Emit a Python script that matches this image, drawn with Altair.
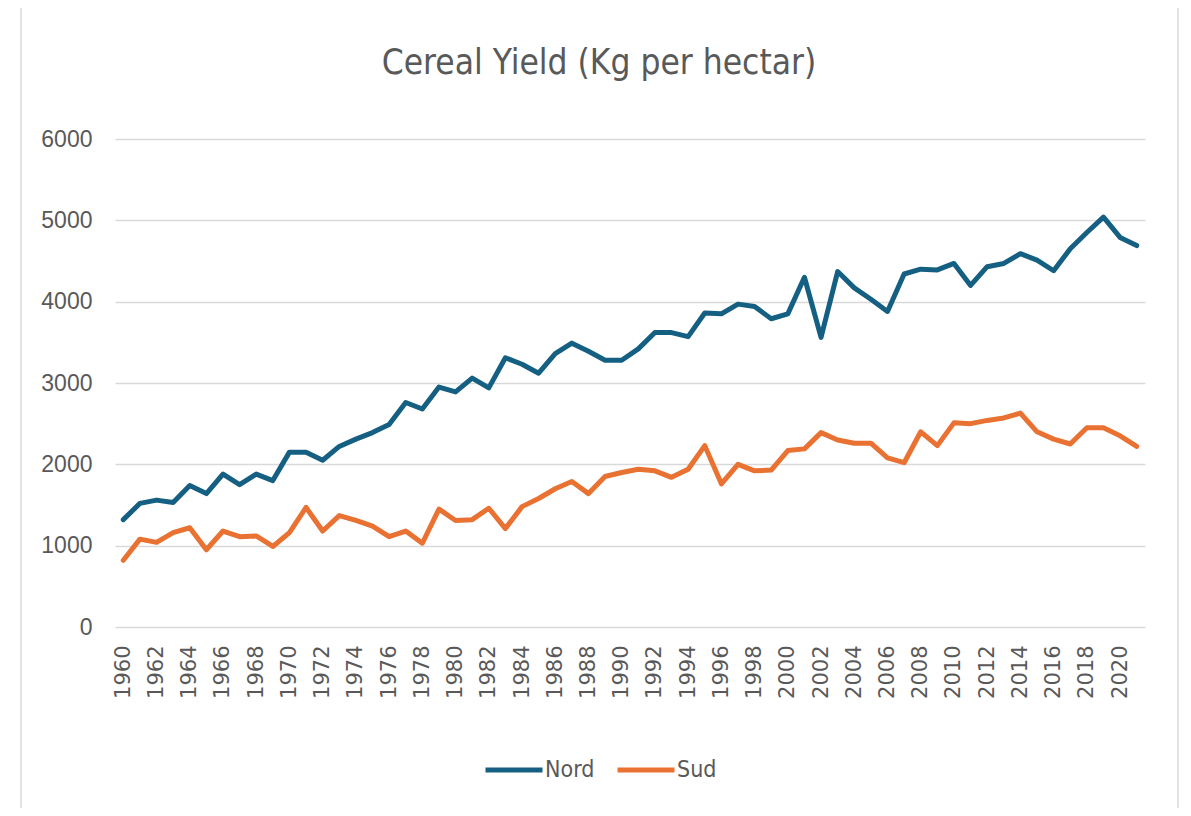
import altair as alt
import pandas as pd

years = list(range(1960, 2022))
nord = [1320, 1520, 1560, 1530, 1740, 1640, 1880, 1750, 1880, 1800,
        2150, 2150, 2050, 2220, 2310, 2390, 2490, 2760, 2680, 2950,
        2890, 3060, 2940, 3310, 3230, 3120, 3360, 3490, 3390, 3280,
        3280, 3420, 3620, 3620, 3570, 3860, 3850, 3970, 3940, 3790,
        3850, 4300, 3560, 4370, 4170, 4030, 3880, 4340, 4400, 4390,
        4470, 4200, 4430, 4470, 4590, 4510, 4380, 4650, 4850, 5040,
        4790, 4690]
sud = [820, 1080, 1040, 1160, 1220, 950, 1180, 1110, 1120, 990,
       1160, 1470, 1180, 1370, 1310, 1240, 1110, 1180, 1030, 1450,
       1310, 1320, 1460, 1210, 1480, 1580, 1700, 1790, 1640, 1850,
       1900, 1940, 1920, 1840, 1940, 2230, 1760, 2000, 1920, 1930,
       2170, 2190, 2390, 2300, 2260, 2260, 2080, 2020, 2400, 2230,
       2510, 2500, 2540, 2570, 2630, 2400, 2310, 2250, 2450, 2450,
       2350, 2220]
series = ["Nord", "Sud"]
colors = ["#156082", "#E97132"]
x_ticks = list(range(1960, 2021, 2))
y_ticks = [0, 1000, 2000, 3000, 4000, 5000, 6000]

df = pd.DataFrame({
    "Year": years * 2,
    "Yield": nord + sud,
    "Region": ["Nord"] * len(years) + ["Sud"] * len(years),
})

NARROW = "Liberation Sans Narrow, DejaVu Sans Condensed, Arial Narrow, sans-serif"
GREY = "#595959"

lines = alt.Chart(df).mark_line(strokeWidth=5, strokeJoin="round", strokeCap="round").encode(
    x=alt.X("Year:Q",
            scale=alt.Scale(domain=[1959.5, 2021.5], nice=False, zero=False),
            axis=alt.Axis(values=x_ticks, format="d", labelAngle=-90, title=None,
                          grid=False, domain=False, ticks=False,
                          labelFont="DejaVu Sans, sans-serif", labelFontSize=21,
                          labelColor=GREY, labelPadding=18)),
    y=alt.Y("Yield:Q",
            scale=alt.Scale(domain=[0, 6000], nice=False),
            axis=alt.Axis(values=y_ticks, format="d", title=None, domain=False, ticks=False,
                          grid=True, gridColor="#d9d9d9", gridWidth=1.5,
                          labelFont="Liberation Sans, Arial, sans-serif", labelFontSize=23,
                          labelColor=GREY, labelPadding=23)),
    color=alt.Color("Region:N",
                    scale=alt.Scale(domain=series, range=colors),
                    legend=alt.Legend(title=None, orient="none", direction="horizontal",
                                      legendX=368, legendY=600,
                                      symbolType="stroke", symbolSize=3249,
                                      symbolStrokeWidth=5,
                                      labelFont=NARROW, labelFontSize=23,
                                      labelColor=GREY, columnPadding=12,
                                      labelOffset=0)),
)

frame = alt.Chart(pd.DataFrame({"f": [0]})).mark_rect(
    fill=None, stroke="#d9d9d9", strokeWidth=1.5, cornerRadius=3
).encode(
    x=alt.value(-94), x2=alt.value(1063), y=alt.value(-135), y2=alt.value(671)
)

chart = alt.layer(frame, lines).properties(
    width=1030,
    height=488,
    title=alt.TitleParams("Cereal Yield (Kg per hectar)", font=NARROW, fontSize=35,
                          fontWeight="normal", color=GREY, anchor="middle",
                          offset=0, dx=-31, dy=78),
    autosize=alt.AutoSizeParams(type="none"),
    padding={"left": 107, "top": 131, "right": 38, "bottom": 181},
).configure_view(stroke=None)

chart.save("out.html", embed_options={"renderer": "svg", "actions": False})
